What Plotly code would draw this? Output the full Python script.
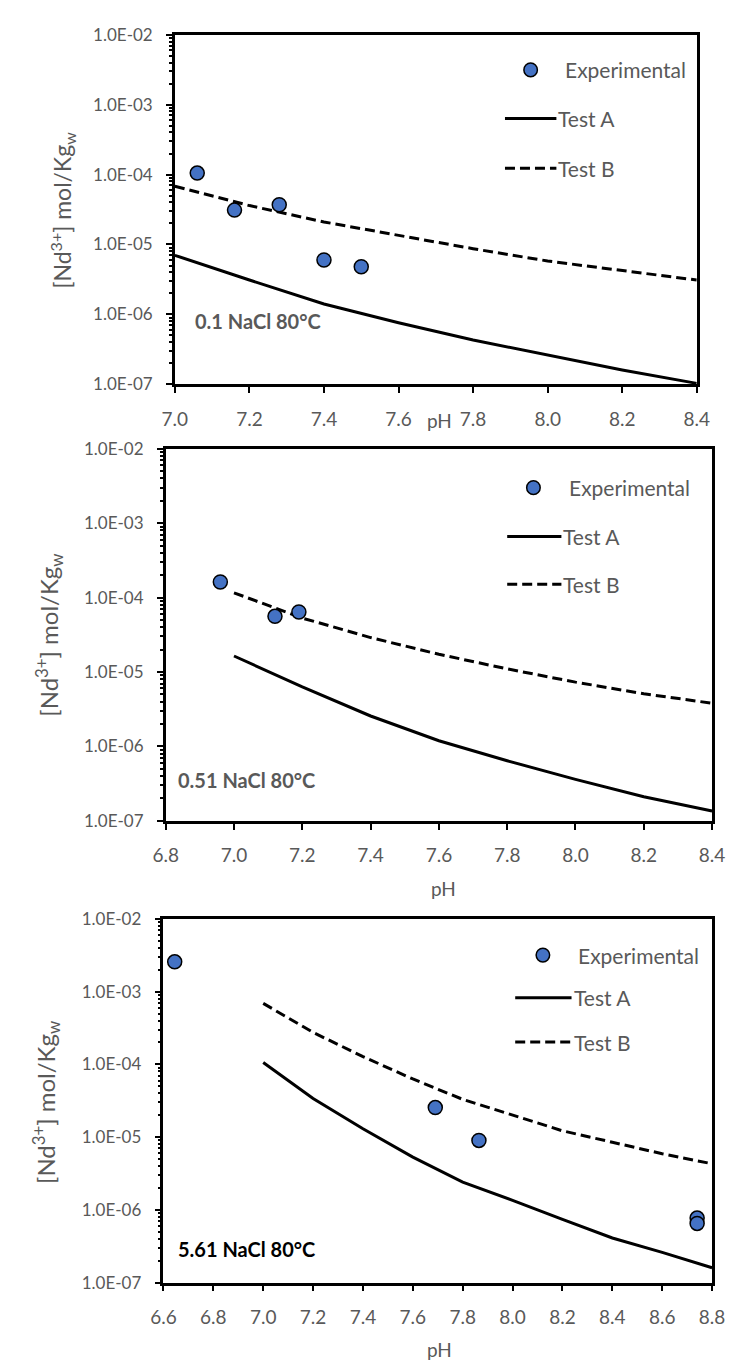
import plotly.graph_objects as go

W, H = 736, 1365
FONT = "Lato"
GRAY = "#595959"
BLUE = "#4472C4"

# ---------------- data ----------------
y_tick_vals = [1e-7, 1e-6, 1e-5, 1e-4, 1e-3, 1e-2]
y_tick_text = ["1.0E-07", "1.0E-06", "1.0E-05", "1.0E-04", "1.0E-03", "1.0E-02"]
minor_digits = [2, 3, 4, 5, 6, 7, 8, 9]

# Panel 1 : 0.1 NaCl 80°C
p1_x_ticks = [7.0, 7.2, 7.4, 7.6, 7.8, 8.0, 8.2, 8.4]
p1_x_text = ["7.0", "7.2", "7.4", "7.6", "7.8", "8.0", "8.2", "8.4"]
p1_exp_ph = [7.06, 7.16, 7.28, 7.40, 7.50]
p1_exp_nd = [1.05e-4, 3.1e-5, 3.7e-5, 6.0e-6, 4.8e-6]
p1_model_ph = [7.0, 7.2, 7.4, 7.6, 7.8, 8.0, 8.2, 8.4]
p1_testA = [7.0e-6, 3.1e-6, 1.41e-6, 7.6e-7, 4.3e-7, 2.6e-7, 1.6e-7, 1.03e-7]
p1_testB = [6.8e-5, 3.6e-5, 2.1e-5, 1.34e-5, 8.7e-6, 5.8e-6, 4.2e-6, 3.1e-6]

# Panel 2 : 0.51 NaCl 80°C
p2_x_ticks = [6.8, 7.0, 7.2, 7.4, 7.6, 7.8, 8.0, 8.2, 8.4]
p2_x_text = ["6.8", "7.0", "7.2", "7.4", "7.6", "7.8", "8.0", "8.2", "8.4"]
p2_exp_ph = [6.96, 7.12, 7.19]
p2_exp_nd = [1.62e-4, 5.6e-5, 6.4e-5]
p2_model_ph = [7.0, 7.2, 7.4, 7.6, 7.8, 8.0, 8.2, 8.4]
p2_testA = [1.64e-5, 6.3e-6, 2.56e-6, 1.19e-6, 6.4e-7, 3.6e-7, 2.1e-7, 1.35e-7]
p2_testB = [1.16e-4, 5.3e-5, 2.9e-5, 1.73e-5, 1.1e-5, 7.3e-6, 5.1e-6, 3.8e-6]

# Panel 3 : 5.61 NaCl 80°C
p3_x_ticks = [6.6, 6.8, 7.0, 7.2, 7.4, 7.6, 7.8, 8.0, 8.2, 8.4, 8.6, 8.8]
p3_x_text = ["6.6", "6.8", "7.0", "7.2", "7.4", "7.6", "7.8", "8.0", "8.2", "8.4", "8.6", "8.8"]
p3_exp_ph = [6.645, 7.69, 7.865, 8.74, 8.74]
p3_exp_nd = [2.57e-3, 2.55e-5, 9.0e-6, 7.7e-7, 6.5e-7]
p3_model_ph = [7.0, 7.2, 7.4, 7.6, 7.8, 8.0, 8.2, 8.4, 8.6, 8.8]
p3_testA = [1.06e-4, 3.4e-5, 1.3e-5, 5.3e-6, 2.4e-6, 1.35e-6, 7.4e-7, 4.1e-7, 2.6e-7, 1.6e-7]
p3_testB = [6.9e-4, 2.75e-4, 1.28e-4, 6.3e-5, 3.3e-5, 2.0e-5, 1.22e-5, 8.5e-6, 5.9e-6, 4.3e-6]

series_names = ["Experimental", "Test A", "Test B"]
panel_labels = ["0.1 NaCl 80°C", "0.51 NaCl 80°C", "5.61 NaCl 80°C"]
x_title = "pH"
y_title = "[Nd<sup>3+</sup>] mol/Kg<sub>w</sub>"

minor_vals = [d * v for v in y_tick_vals[:-1] for d in minor_digits]

# ---------------- layout geometry (pixels) ----------------
def px(x):
    return x / W

def py(y):
    return 1 - y / H

panels = [
    dict(l=159.5, r=700.5, t=16, b=371, xr=[7.0, 8.4], xt=p1_x_ticks, xtt=p1_x_text,
         exp=(p1_exp_ph, p1_exp_nd), A=(p1_model_ph, p1_testA), B=(p1_model_ph, p1_testB),
         lab=(178, 306.7, GRAY), ph=(433.7, 408), yt=(42, 194, 23),
         leg=dict(mx=528.3, my=51.7, tx=561.7, l0=501.7, l1=555, ya=101, yb=151.7)),
    dict(l=150, r=716.4, t=436.5, b=814.3, xr=[6.8, 8.4], xt=p2_x_ticks, xtt=p2_x_text,
         exp=(p2_exp_ph, p2_exp_nd), A=(p2_model_ph, p2_testA), B=(p2_model_ph, p2_testB),
         lab=(160.3, 773.3, GRAY), ph=(438, 883), yt=(29.3, 626, 24),
         leg=dict(mx=531.2, my=476, tx=565.9, l0=504, l1=560.2, ya=525.7, yb=574)),
    dict(l=147.7, r=716.4, t=914, b=1283.3, xr=[6.6, 8.8], xt=p3_x_ticks, xtt=p3_x_text,
         exp=(p3_exp_ph, p3_exp_nd), A=(p3_model_ph, p3_testA), B=(p3_model_ph, p3_testB),
         lab=(160.3, 1249.3, "#000000"), ph=(433.7, 1351.7), yt=(25.8, 1100, 24),
         leg=dict(mx=541, my=950.7, tx=575.7, l0=512.3, l1=570.7, ya=994, yb=1039)),
]

fig = go.Figure()
shapes = []
annotations = []
layout_axes = {}

for i, p in enumerate(panels):
    n = "" if i == 0 else str(i + 1)
    xa, ya = "x" + n, "y" + n
    fig.add_trace(go.Scatter(x=p["A"][0], y=p["A"][1], mode="lines", name=series_names[1],
                             line=dict(color="black", width=3), xaxis=xa, yaxis=ya,
                             showlegend=False))
    fig.add_trace(go.Scatter(x=p["B"][0], y=p["B"][1], mode="lines", name=series_names[2],
                             line=dict(color="black", width=3, dash="10px,5px"), xaxis=xa, yaxis=ya,
                             showlegend=False))
    fig.add_trace(go.Scatter(x=p["exp"][0], y=p["exp"][1], mode="markers", name=series_names[0],
                             marker=dict(color=BLUE, size=14, line=dict(color="black", width=1.5)),
                             xaxis=xa, yaxis=ya, showlegend=False, cliponaxis=False))

    layout_axes["xaxis" + n] = dict(
        domain=[px(p["l"]), px(p["r"])], range=p["xr"], anchor=ya,
        tickmode="array", tickvals=p["xt"], ticktext=p["xtt"],
        ticks="outside", ticklen=6, tickwidth=2, tickcolor="black",
        showline=True, linecolor="black", linewidth=2.5, mirror=True,
        showgrid=False, zeroline=False,
        tickfont=dict(family=FONT, size=19, color=GRAY), ticklabelstandoff=10,
    )
    layout_axes["yaxis" + n] = dict(
        domain=[py(p["b"]), py(p["t"])], type="log", range=[-7, -2], anchor=xa,
        tickmode="array", tickvals=y_tick_vals, ticktext=y_tick_text,
        ticks="outside", ticklen=6, tickwidth=2, tickcolor="black",
        minor=dict(tickmode="array", tickvals=minor_vals, ticks="outside", ticklen=3,
                   tickwidth=1.5, tickcolor="black", showgrid=False),
        showline=True, linecolor="black", linewidth=2.5, mirror=True,
        showgrid=False, zeroline=False,
        tickfont=dict(family=FONT, size=17, color=GRAY), ticklabelstandoff=10,
    )

    lx, ly, lc = p["lab"]
    annotations.append(dict(x=px(lx), y=py(ly), xref="paper", yref="paper", xanchor="left",
                            yanchor="middle", showarrow=False, text="<b>" + panel_labels[i] + "</b>",
                            font=dict(family=FONT, size=20, color=lc)))
    annotations.append(dict(x=px(p["ph"][0]), y=py(p["ph"][1]), xref="paper", yref="paper",
                            xanchor="center", yanchor="middle", showarrow=False, text=x_title,
                            font=dict(family=FONT, size=19, color=GRAY)))
    annotations.append(dict(x=px(p["yt"][0]), y=py(p["yt"][1]), xref="paper", yref="paper",
                            xanchor="center", yanchor="middle", showarrow=False, text=y_title,
                            textangle=-90, font=dict(family=FONT, size=p["yt"][2], color=GRAY)))
    g = p["leg"]
    r = 7
    shapes.append(dict(type="circle", xref="paper", yref="paper",
                       x0=px(g["mx"] - r), x1=px(g["mx"] + r), y0=py(g["my"] + r), y1=py(g["my"] - r),
                       fillcolor=BLUE, line=dict(color="black", width=1.5)))
    shapes.append(dict(type="line", xref="paper", yref="paper",
                       x0=px(g["l0"]), x1=px(g["l1"]), y0=py(g["ya"]), y1=py(g["ya"]),
                       line=dict(color="black", width=3)))
    shapes.append(dict(type="line", xref="paper", yref="paper",
                       x0=px(g["l0"]), x1=px(g["l1"]), y0=py(g["yb"]), y1=py(g["yb"]),
                       line=dict(color="black", width=3, dash="10px,5px")))
    for txt, yy in zip(series_names, [g["my"], g["ya"], g["yb"]]):
        tx = g["tx"] if txt == series_names[0] else g["l1"]
        annotations.append(dict(x=px(tx), y=py(yy), xref="paper", yref="paper", xanchor="left",
                                yanchor="middle", showarrow=False, text=txt,
                                font=dict(family=FONT, size=21, color=GRAY)))

fig.update_layout(
    width=W, height=H, margin=dict(l=0, r=0, t=0, b=0),
    paper_bgcolor="white", plot_bgcolor="white",
    showlegend=False, shapes=shapes, annotations=annotations,
    font=dict(family=FONT, color=GRAY),
    **layout_axes,
)

fig.write_html("out.html")
